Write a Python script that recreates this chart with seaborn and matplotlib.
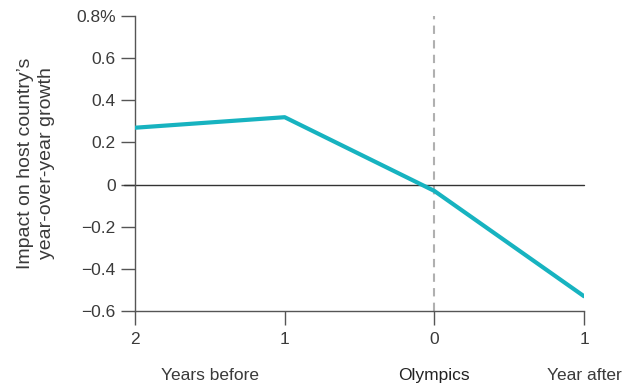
import matplotlib
matplotlib.use('agg')
import matplotlib.pyplot as plt
import seaborn as sns
import pandas as pd

# years relative to the Olympics and the estimated growth impact (%)
years = [-2, -1, 0, 1]
year_labels = ['2', '1', '0', '1']
impact = [0.27, 0.32, -0.03, -0.53]
y_ticks = [-0.6, -0.4, -0.2, 0, 0.2, 0.4, 0.6, 0.8]
y_labels = ['\u22120.6', '\u22120.4', '\u22120.2', '0', '0.2', '0.4', '0.6', '0.8%']
period_labels = ['Years before', 'Olympics', 'Year after']
period_pos = [-1.5, 0, 1]

df = pd.DataFrame({'year': years, 'impact': impact})

sns.set_style('ticks')
plt.rcParams['font.family'] = ['Liberation Sans', 'DejaVu Sans']
txt = '#3a3a3a'

fig = plt.figure(figsize=(6.35, 3.83), dpi=100)
ax = fig.add_axes([0.2126, 0.188, 0.7071, 0.770])

ax.axvline(0, color='#b0b0b0', lw=1.5, ls=(0, (4, 3)), zorder=1)
ax.axhline(0, color='#333333', lw=1, zorder=2, xmin=-0.025, clip_on=False)
sns.lineplot(data=df, x='year', y='impact', color='#17b3c0', lw=3, ax=ax, zorder=3)

ax.set_xlim(-2, 1)
ax.set_ylim(-0.6, 0.8)
ax.set_xticks(years)
ax.set_xticklabels(year_labels)
ax.set_yticks(y_ticks)
ax.set_yticklabels(y_labels)
ax.tick_params(axis='both', colors='#555555', labelcolor=txt, labelsize=12.5,
               length=10, width=1)
ax.tick_params(axis='x', length=10, pad=5)
ax.tick_params(axis='y', pad=4)
for s in ['top', 'right']:
    ax.spines[s].set_visible(False)
for s in ['left', 'bottom']:
    ax.spines[s].set_color('#555555')
    ax.spines[s].set_linewidth(1)

ax.set_xlabel('')
ax.set_ylabel('Impact on host country\u2019s\nyear-over-year growth', fontsize=14,
              color=txt, labelpad=15, linespacing=1.3)

for lab, pos in zip(period_labels, period_pos):
    ax.annotate(lab, xy=(pos, 0.0), xycoords=('data', 'figure fraction'),
                ha='center', va='bottom', fontsize=12.5,
                color='#222222' if lab == 'Olympics' else txt)

fig.savefig('out.png', dpi=100)
